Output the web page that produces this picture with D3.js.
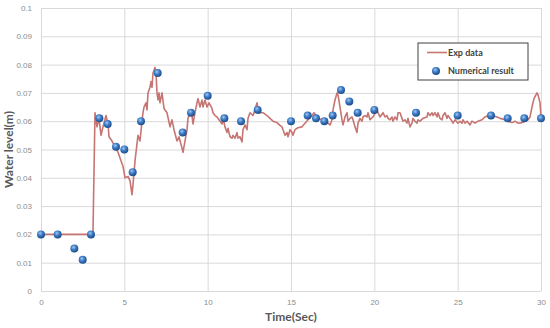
<!DOCTYPE html>
<html>
<head>
<meta charset="utf-8">
<script src="https://cdn.jsdelivr.net/npm/d3@7"></script>
<style>
  body { margin: 0; background: #fff; }
  svg { display: block; font-family: Lato, 'Open Sans', sans-serif; }
</style>
</head>
<body>
<div id="chart"></div>
<script>
// experimental curve (time in s, level in m)
const expTime = [0, 3.06, 3.12, 3.24, 3.36, 3.48, 3.6, 3.72, 3.9, 4.02, 4.08, 4.26, 4.44, 4.62, 4.8, 4.92,
  5.04, 5.22, 5.34, 5.46, 5.52, 5.64, 5.76, 5.82, 5.94, 6.06, 6.12, 6.18, 6.3, 6.36, 6.42, 6.54, 6.6,
  6.66, 6.72, 6.84, 6.9, 6.96, 7.02, 7.08, 7.14, 7.26, 7.38, 7.56, 7.74, 7.86, 7.98, 8.16, 8.28, 8.46,
  8.52, 8.76, 8.82, 8.94, 9.06, 9.12, 9.24, 9.36, 9.42, 9.54, 9.66, 9.72, 9.84, 9.96, 10.08, 10.26,
  10.32, 10.44, 10.56, 10.68, 10.86, 10.92, 11.04, 11.16, 11.22, 11.34, 11.46, 11.52, 11.64, 11.76,
  11.82, 11.94, 12.06, 12.12, 12.24, 12.36, 12.42, 12.54, 12.72, 12.84, 12.96, 13.02, 13.14, 13.32,
  13.56, 13.74, 13.92, 14.16, 14.34, 14.46, 14.52, 14.64, 14.76, 14.82, 14.94, 15.06, 15.12, 15.24,
  15.42, 15.66, 15.84, 16.02, 16.26, 16.38, 16.5, 16.62, 16.86, 17.04, 17.22, 17.34, 17.46, 17.52,
  17.64, 17.76, 17.82, 17.94, 18.06, 18.12, 18.24, 18.36, 18.42, 18.54, 18.66, 18.72, 18.84, 18.96,
  19.02, 19.14, 19.26, 19.32, 19.44, 19.56, 19.62, 19.74, 19.92, 20.16, 20.22, 20.34, 20.52, 20.64,
  20.76, 20.82, 20.94, 21.06, 21.12, 21.24, 21.36, 21.42, 21.54, 21.66, 21.72, 21.84, 21.96, 22.02,
  22.14, 22.26, 22.32, 22.44, 22.56, 22.62, 22.74, 22.92, 23.16, 23.22, 23.34, 23.46, 23.52, 23.64,
  23.76, 23.82, 23.94, 24.06, 24.12, 24.24, 24.36, 24.42, 24.54, 24.66, 24.72, 24.84, 25.02, 25.14,
  25.26, 25.32, 25.44, 25.56, 25.74, 25.86, 26.04, 26.22, 26.46, 26.64, 26.82, 27.06, 27.12, 27.36,
  27.54, 27.84, 28.02, 28.26, 28.44, 28.62, 28.86, 29.04, 29.22, 29.34, 29.46, 29.58, 29.76, 29.82,
  29.94, 30]
const expLevel = [0.02, 0.02, 0.021, 0.063, 0.058, 0.061, 0.055, 0.058, 0.062, 0.059, 0.0545, 0.053,
  0.051, 0.049, 0.046, 0.044, 0.04, 0.0405, 0.039, 0.034, 0.0375, 0.046, 0.052, 0.055, 0.053, 0.06,
  0.063, 0.065, 0.0665, 0.064, 0.07, 0.072, 0.074, 0.072, 0.077, 0.079, 0.077, 0.07, 0.0675, 0.07,
  0.0665, 0.07, 0.0645, 0.063, 0.058, 0.0605, 0.057, 0.053, 0.0545, 0.0505, 0.049, 0.057, 0.061,
  0.063, 0.062, 0.059, 0.063, 0.0665, 0.068, 0.065, 0.0675, 0.065, 0.0675, 0.065, 0.0665, 0.0645,
  0.063, 0.062, 0.0615, 0.0605, 0.059, 0.061, 0.058, 0.056, 0.0575, 0.0545, 0.054, 0.055, 0.054,
  0.056, 0.054, 0.0545, 0.0527, 0.057, 0.0587, 0.057, 0.061, 0.063, 0.062, 0.064, 0.0665, 0.0645,
  0.063, 0.063, 0.062, 0.061, 0.06, 0.0595, 0.0585, 0.058, 0.057, 0.055, 0.056, 0.0545, 0.057, 0.056,
  0.055, 0.057, 0.0577, 0.058, 0.0593, 0.0605, 0.062, 0.063, 0.062, 0.061, 0.0605, 0.06, 0.0593,
  0.0587, 0.0605, 0.064, 0.0675, 0.07, 0.0693, 0.065, 0.0605, 0.0587, 0.0615, 0.063, 0.06, 0.061,
  0.0615, 0.0605, 0.058, 0.056, 0.0593, 0.061, 0.06, 0.0615, 0.062, 0.0615, 0.063, 0.0605, 0.0615,
  0.064, 0.063, 0.0615, 0.063, 0.0615, 0.062, 0.061, 0.0605, 0.0615, 0.06, 0.0615, 0.0605, 0.063,
  0.063, 0.061, 0.06, 0.0605, 0.0593, 0.061, 0.058, 0.0593, 0.061, 0.06, 0.0593, 0.0605, 0.06, 0.061,
  0.0615, 0.063, 0.062, 0.063, 0.062, 0.063, 0.0615, 0.063, 0.061, 0.0605, 0.062, 0.063, 0.061,
  0.062, 0.061, 0.06, 0.0593, 0.0605, 0.0593, 0.06, 0.0593, 0.0605, 0.0593, 0.06, 0.0587, 0.06,
  0.0593, 0.06, 0.0605, 0.0615, 0.062, 0.0615, 0.062, 0.0615, 0.061, 0.0605, 0.06, 0.0595, 0.06,
  0.0593, 0.0595, 0.06, 0.0605, 0.0615, 0.065, 0.068, 0.07, 0.0693, 0.0665, 0.0615]

// numerical result markers
const numTime = [0, 1, 2, 2.5, 3, 3.5, 4, 4.5, 5, 5.5, 6, 7, 8.5, 9, 10, 11, 12, 13, 15, 16, 16.5,
  17, 17.5, 18, 18.5, 19, 20, 22.5, 25, 27, 28, 29, 30]
const numLevel = [0.02, 0.02, 0.015, 0.011, 0.02, 0.061, 0.059, 0.051, 0.05, 0.042, 0.06, 0.077,
  0.056, 0.063, 0.069, 0.061, 0.06, 0.064, 0.06, 0.062, 0.061, 0.06, 0.062, 0.071, 0.067, 0.063,
  0.064, 0.063, 0.062, 0.062, 0.061, 0.061, 0.061]

const xTicks = [0, 5, 10, 15, 20, 25, 30]
const yTicks = [0, 0.01, 0.02, 0.03, 0.04, 0.05, 0.06, 0.07, 0.08, 0.09, 0.1]
const seriesNames = ['Exp data', 'Numerical result']

const W = 550, H = 328
const margin = { TOP: 8, RIGHT: 9, BOTTOM: 37, LEFT: 41 }

const svg = d3.select('#chart').append('svg').attr('width', W).attr('height', H)

const defs = svg.append('defs')
const grad = defs.append('radialGradient').attr('id', 'ball')
  .attr('cx', '40%').attr('cy', '35%').attr('r', '65%')
grad.append('stop').attr('offset', '0%').attr('stop-color', '#a9c8ee')
grad.append('stop').attr('offset', '45%').attr('stop-color', '#3f7fc9')
grad.append('stop').attr('offset', '100%').attr('stop-color', '#1d4a86')

const x = d3.scaleLinear().domain([0, 30]).range([margin.LEFT, W - margin.RIGHT])
const y = d3.scaleLinear().domain([0, 0.1]).range([H - margin.BOTTOM, margin.TOP])

// grid
svg.append('g')
  .attr('transform', `translate(0, ${H - margin.BOTTOM})`)
  .call(d3.axisBottom(x).tickValues(xTicks).tickSize(-(H - margin.BOTTOM - margin.TOP)).tickFormat(''))
  .call(g => g.select('.domain').remove())
  .call(g => g.selectAll('line').attr('stroke', '#d9d9d9'))

svg.append('g')
  .attr('transform', `translate(${margin.LEFT}, 0)`)
  .call(d3.axisLeft(y).tickValues(yTicks).tickSize(-(W - margin.LEFT - margin.RIGHT)).tickFormat(''))
  .call(g => g.select('.domain').remove())
  .call(g => g.selectAll('line').attr('stroke', '#d9d9d9'))

// tick labels
svg.append('g')
  .attr('transform', `translate(0, ${H - margin.BOTTOM})`)
  .call(d3.axisBottom(x).tickValues(xTicks).tickSize(0).tickPadding(8))
  .call(g => g.select('.domain').remove())
  .call(g => g.selectAll('text').attr('fill', '#8c8c8c').style('font-size', '8px'))

svg.append('g')
  .attr('transform', `translate(${margin.LEFT}, 0)`)
  .call(d3.axisLeft(y).tickValues(yTicks).tickSize(0).tickPadding(9).tickFormat(d => d === 0 ? '0' : d3.format('.2~f')(d)))
  .call(g => g.select('.domain').remove())
  .call(g => g.selectAll('text').attr('fill', '#8c8c8c').style('font-size', '8px'))

// axis titles
svg.append('text')
  .attr('x', (margin.LEFT + W - margin.RIGHT) / 2)
  .attr('y', 321)
  .attr('text-anchor', 'middle')
  .attr('fill', '#595959')
  .style('font-size', '12px').style('font-weight', 'bold')
  .text('Time(Sec)')

svg.append('text')
  .attr('transform', `translate(13, ${(margin.TOP + H - margin.BOTTOM) / 2}) rotate(-90)`)
  .attr('text-anchor', 'middle')
  .attr('fill', '#595959')
  .style('font-size', '12px').style('font-weight', 'bold')
  .text('Water level(m)')

// exp line
const expData = expTime.map((t, i) => ({ t, v: expLevel[i] }))
const line = d3.line().x(d => x(d.t)).y(d => y(d.v))

svg.append('path')
  .datum(expData)
  .attr('fill', 'none')
  .attr('stroke', '#c67572')
  .attr('stroke-width', 1.6)
  .attr('stroke-linejoin', 'round')
  .attr('d', line)

// numerical markers
const numData = numTime.map((t, i) => ({ t, v: numLevel[i] }))
svg.append('g')
  .selectAll('circle')
  .data(numData)
  .join('circle')
  .attr('cx', d => x(d.t))
  .attr('cy', d => y(d.v))
  .attr('r', 4)
  .attr('fill', 'url(#ball)')

// legend
const legend = svg.append('g').attr('transform', 'translate(418, 43)')
legend.append('rect')
  .attr('width', 110).attr('height', 37)
  .attr('fill', '#fff').attr('stroke', '#404040').attr('stroke-width', 1)
legend.append('line')
  .attr('x1', 9).attr('x2', 29).attr('y1', 9.5).attr('y2', 9.5)
  .attr('stroke', '#c67572').attr('stroke-width', 1.6)
legend.append('circle')
  .attr('cx', 18).attr('cy', 28).attr('r', 4).attr('fill', 'url(#ball)')
legend.selectAll('text.lbl')
  .data(seriesNames)
  .join('text')
  .attr('class', 'lbl')
  .attr('x', 30)
  .attr('y', (d, i) => 12.5 + i * 18.5)
  .attr('fill', '#404040')
  .style('font-size', '9px').style('font-weight', 'bold')
  .text(d => d)
</script>
</body>
</html>
